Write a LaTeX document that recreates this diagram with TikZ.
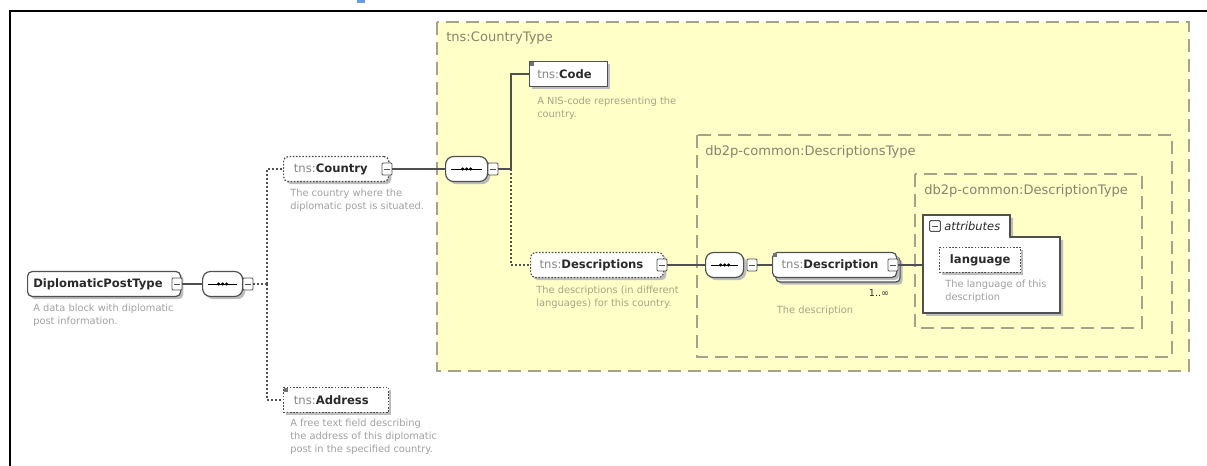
\documentclass[tikz,border=0pt]{standalone}
\usepackage{fontspec}
\setmainfont{DejaVu Sans}
\usetikzlibrary{shadows}
\definecolor{ybg}{HTML}{FFFFC8}
\definecolor{ydash}{HTML}{A3A38C}
\definecolor{ylab}{HTML}{85856F}
\definecolor{dtxt}{HTML}{A0A0A0}
\definecolor{ydtxt}{HTML}{A5A588}
\definecolor{nbord}{HTML}{505050}
\definecolor{shad}{HTML}{BDBDBD}
\definecolor{pfx}{HTML}{858585}
\definecolor{ntxt}{HTML}{2A2A2A}
\definecolor{bluemark}{HTML}{6A9BE0}
\tikzset{
 conn/.style={draw=nbord, line width=0.8pt},
 dconn/.style={conn, dash pattern=on 1.5pt off 1.5pt},
 typebox/.style={draw=ydash, fill=ybg, line width=1pt, dash pattern=on 10pt off 5pt},
 typelab/.style={anchor=west, inner sep=0pt, text=ylab, font=\fontsize{9.8}{11}\selectfont},
 elembox/.style={draw=nbord, fill=white, line width=0.9pt, minimum height=18.75pt, inner sep=0pt, anchor=west,
   drop shadow={shadow xshift=2pt, shadow yshift=-2pt, fill=shad, opacity=1}},
 optbox/.style={elembox, dash pattern=on 1.2pt off 1.2pt},
 cplx/.style={rounded corners=3.5pt},
 ename/.style={anchor=west, inner sep=0pt, text=ntxt, font=\fontsize{8.7}{10}\selectfont},
 edesc/.style={anchor=north west, inner sep=0pt, align=left, text=dtxt, font=\fontsize{7.4}{9.75}\selectfont},
 ydesc/.style={edesc, text=ydtxt},
 minusbox/.style={draw=nbord, fill=white, line width=0.7pt, minimum width=7.5pt, minimum height=9pt, inner sep=0pt,
   rounded corners=0.8pt,
   path picture={\draw[nbord, line width=0.6pt] ([xshift=1.5pt]path picture bounding box.west) -- ([xshift=-1.5pt]path picture bounding box.east);}},
 seqbox/.style={elembox, rounded corners=6pt,
   path picture={\draw[black, line width=0.7pt] ([xshift=4pt]path picture bounding box.west) -- ([xshift=-4pt]path picture bounding box.east);
     \foreach \d in {-3,0,3} \fill[black] ([xshift=\d pt]path picture bounding box.center) circle (1.25pt);}},
 stmark/.style={fill=nbord!80, minimum size=3pt, inner sep=0pt, anchor=north west},
}
\begin{document}
\begin{tikzpicture}[x=0.75pt,y=-0.75pt]
\useasboundingbox (0,0) rectangle (1207,466);
% frame and top fragment
\draw[line width=1.6pt] (10,466) -- (10,11) -- (1207,11);
\fill[bluemark] (357,0) rectangle (365,3);

% type boxes
\draw[typebox] (437,22) rectangle (1189,371);
\node[typelab] (lctype) at (446,38) {tns:CountryType};
\draw[typebox] (697,135) rectangle (1172,357);
\node[typelab] (ldstype) at (705,152) {db2p-common:DescriptionsType};
\draw[typebox] (915,174) rectangle (1142,328);
\node[typelab] (ldtype) at (924,191) {db2p-common:DescriptionType};

% root
\node[elembox, cplx, minimum width=153*0.75pt] (dpt) at (27,284) {};
\node[ename] (dptT) at ([xshift=4.5pt]dpt.west) {\textbf{DiplomaticPostType}};
\node[minusbox] (m1) at (177,284) {};
\node[edesc] (dptD) at (33,304) {A data block with diplomatic\\post information.};

\node[seqbox, minimum width=40*0.75pt] (seq1) at (202,284) {};
\node[minusbox] (m2) at (248,284) {};

% Country
\node[optbox, cplx, minimum width=105*0.75pt] (country) at (283,169) {};
\node[ename] (countryT) at ([xshift=8pt]country.west) {{\color{pfx}tns:}\textbf{Country}};
\node[minusbox] (m3) at (387,169) {};
\node[edesc] (countryD) at (290,189) {The country where the\\diplomatic post is situated.};

% Address
\node[optbox, minimum width=105*0.75pt] (address) at (283,400) {};
\node[stmark] (addrmk) at ([shift={(1,1)}]address.north west) {};
\node[ename] (addressT) at ([xshift=8pt]address.west) {{\color{pfx}tns:}\textbf{Address}};
\node[edesc] (addressD) at (290,419) {A free text field describing\\the address of this diplomatic\\post in the specified country.};

% second sequence
\node[seqbox, minimum width=42*0.75pt] (seq2) at (445,169) {};
\node[minusbox] (m4) at (493,169) {};

% Code
\node[elembox, minimum width=78*0.75pt] (code) at (529,74) {};
\node[stmark] (codemk) at ([shift={(1,1)}]code.north west) {};
\node[ename] (codeT) at ([xshift=6pt]code.west) {{\color{pfx}tns:}\textbf{Code}};
\node[ydesc] (codeD) at (537,97) {A NIS-code representing the\\country.};

% Descriptions
\node[optbox, cplx, minimum width=133*0.75pt] (descs) at (530,265) {};
\node[ename] (descsT) at ([xshift=7pt]descs.west) {{\color{pfx}tns:}\textbf{Descriptions}};
\node[minusbox] (m5) at (662,265) {};
\node[ydesc] (descsD) at (536,286) {The descriptions (in different\\languages) for this country.};

% third sequence
\node[seqbox, minimum width=38*0.75pt] (seq3) at (705,265) {};
\node[minusbox] (m6) at (752,265) {};

% Description (multiple)
\draw[draw=nbord, fill=white, line width=0.9pt, rounded corners=3pt,
   drop shadow={shadow xshift=2pt, shadow yshift=-2pt, fill=shad, opacity=1}]
   (776,257) rectangle (900,282);
\node[elembox, cplx, minimum width=124*0.75pt] (desc) at (772,265) {};
\node[stmark] (descmk) at ([shift={(1,1)}]desc.north west) {};
\node[ename] (descT) at ([xshift=7pt]desc.west) {{\color{pfx}tns:}\textbf{Description}};
\node[minusbox] (m7) at (893,265) {};
\node[anchor=center, inner sep=0pt, text=ntxt, font=\fontsize{7.2}{8}\selectfont] (mult) at (879,293) {1..∞};
\node[anchor=center, inner sep=0pt, text=ydtxt, font=\fontsize{7.4}{8}\selectfont] (descD) at (815,311) {The description};

% attributes box
\coordinate (attrW) at (923,265);
\fill[shad] (926,218) -- (1013,218) -- (1013,240) -- (1063,240) -- (1063,316) -- (926,316) -- cycle;
\draw[draw=nbord, fill=white, line width=0.9pt] (923,215) -- (1010,215) -- (1010,237) -- (1060,237) -- (1060,313) -- (923,313) -- cycle;
\node[minusbox, minimum width=8pt, minimum height=8pt] (am) at (935,226) {};
\node[ename, font=\fontsize{8.6}{10}\selectfont\itshape] (attrT) at (944,226) {attributes};
\node[optbox, minimum width=81*0.75pt] (lang) at (939,260) {};
\node[ename] (langT) at ([xshift=8pt]lang.west) {\textbf{language}};
\node[edesc] (langD) at (945,280) {The language of this\\description};

% connectors
\coordinate (br1) at (267,284);
\coordinate (br2) at (511,169);
\draw[conn] (m1.east) -- (seq1.west);
\draw[dconn] (m2.east) -- (br1);
\draw[dconn] (br1) |- (country.west);
\draw[dconn] (br1) |- (address.west);
\draw[conn] (m3.east) -- (seq2.west);
\draw[conn] (m4.east) -- (br2);
\draw[conn] (br2) |- (code.west);
\draw[dconn] (br2) |- (descs.west);
\draw[conn] (m5.east) -- (seq3.west);
\draw[conn] (m6.east) -- (desc.west);
\draw[conn] (m7.east) -- (attrW);
\end{tikzpicture}
\end{document}
